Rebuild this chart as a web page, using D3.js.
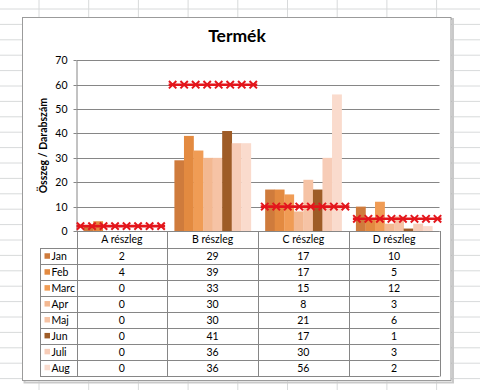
<!DOCTYPE html>
<html><head><meta charset="utf-8">
<script src="https://cdn.jsdelivr.net/npm/d3@7"></script>
<style>
body{margin:0;background:#fff}
svg{display:block}
text{font-family:Lato,"Open Sans","DejaVu Sans",sans-serif;fill:#000}
</style>
</head><body><svg id="c" width="480" height="390"></svg>
<script>
const categories = ["A részleg","B részleg","C részleg","D részleg"];
const months = ["Jan","Feb","Marc","Apr","Maj","Jun","Juli","Aug"];
const jan  = [2, 29, 17, 10];
const feb  = [4, 39, 17, 5];
const marc = [0, 33, 15, 12];
const apr  = [0, 30, 8, 3];
const maj  = [0, 30, 21, 6];
const jun  = [0, 41, 17, 1];
const juli = [0, 36, 30, 3];
const aug  = [0, 36, 56, 2];
const seriesValues = [jan, feb, marc, apr, maj, jun, juli, aug];
const targets = [2, 60, 10, 5];
const yTicks = [0, 10, 20, 30, 40, 50, 60, 70];
const colors = ["#CF7B3C","#E38A40","#F09C55","#F3B891","#F6C3A5","#9E5C27","#F7CCB7","#FADBCD"];

const svg = d3.select("#c");

// spreadsheet background grid
const gridColor = "#D8DADB";
const colXs = d3.range(-1, 10).map(k => 39 + 49.7 * k);
const rowYs = d3.range(-1, 26).map(k => 9 + 15.4 * k);
svg.append("g").selectAll("line.c").data(colXs).join("line")
  .attr("x1", d => d).attr("x2", d => d).attr("y1", 0).attr("y2", 390)
  .attr("stroke", gridColor).attr("stroke-width", 1);
svg.append("g").selectAll("line.r").data(rowYs).join("line")
  .attr("x1", 0).attr("x2", 480).attr("y1", d => d).attr("y2", d => d)
  .attr("stroke", gridColor).attr("stroke-width", 1);

// chart area
svg.append("rect").attr("x", 24.5).attr("y", 19).attr("width", 428.5).attr("height", 363.5)
  .attr("fill", "none").attr("stroke", "#C9C9C9").attr("stroke-width", 2);
svg.append("rect").attr("x", 22.5).attr("y", 17.5).attr("width", 428.5).attr("height", 363)
  .attr("fill", "#fff").attr("stroke", "#9B9B9B").attr("stroke-width", 1);

// title
svg.append("text").attr("x", 237).attr("y", 41.5).attr("text-anchor", "middle")
  .attr("font-size", 17.5).attr("font-weight", "bold").text("Termék");

// scales
const left = 76.5, right = 439.5, y0 = 231, yTop = 60.3;
const x = d3.scaleBand().domain(categories).range([left, right]);
const xm = d3.scaleBand().domain(months).range([0, x.bandwidth()]).paddingInner(0).paddingOuter(0.75);
const y = d3.scaleLinear().domain([0, 70]).range([y0, yTop]);

// y axis with gridlines
const yAxis = d3.axisLeft(y).tickValues(yTicks).tickSizeInner(-(right - left)).tickSizeOuter(0).tickPadding(9);
const ga = svg.append("g").attr("transform", `translate(${left},0)`).call(yAxis);
ga.select(".domain").attr("stroke", "#868686");
ga.selectAll(".tick line").attr("stroke", "#868686");
ga.selectAll(".tick text").attr("font-size", 10.5).attr("font-family", "Lato,'Open Sans',sans-serif").attr("fill", "#000");
svg.append("g").selectAll("line").data(yTicks).join("line")
  .attr("x1", left - 3).attr("x2", left).attr("y1", d => Math.round(y(d)) + 0.5).attr("y2", d => Math.round(y(d)) + 0.5)
  .attr("stroke", "#868686");
ga.selectAll(".tick").attr("transform", d => `translate(0,${Math.round(y(d)) + 0.5})`);

// y-axis title
svg.append("text").attr("transform", `translate(46.5,${(y0 + yTop) / 2}) rotate(-90)`)
  .attr("text-anchor", "middle").attr("font-size", 10.5).attr("font-weight", "bold").text("Összeg / Darabszám");

// bars
const bars = svg.append("g");
seriesValues.forEach((vals, si) => {
  bars.selectAll(null).data(vals).join("rect")
    .attr("x", (d, i) => x(categories[i]) + xm(months[si]))
    .attr("width", xm.bandwidth() + 0.3)
    .attr("y", d => y(d))
    .attr("height", d => y0 - y(d))
    .attr("fill", colors[si]);
});

// target lines (8 points per category)
const idx = d3.range(32);
const xp = d3.scalePoint().domain(idx).range([left + 4, right - 2]);
const red = "#E3161C";
const lg = svg.append("g");
categories.forEach((c, ci) => {
  const pts = d3.range(8).map(j => ci * 8 + j);
  const yy = y(targets[ci]);
  lg.append("line").attr("x1", xp(pts[0]) - 4).attr("x2", xp(pts[7]) + 4)
    .attr("y1", yy).attr("y2", yy).attr("stroke", red).attr("stroke-width", 2.6);
  lg.selectAll(null).data(pts).join("path")
    .attr("d", p => { const cx = xp(p), s = 3.7; return `M${cx - s},${yy - s}L${cx + s},${yy + s}M${cx - s},${yy + s}L${cx + s},${yy - s}`; })
    .attr("stroke", red).attr("stroke-width", 2).attr("fill", "none");
});

// data table
const tTop = 248.3, rowH = 15.93, tLeft = 40;
const tBottom = tTop + rowH * months.length;
const tc = "#868686";
const tg = svg.append("g");
tg.append("line").attr("x1", left).attr("x2", right).attr("y1", y0 + 0.5).attr("y2", y0 + 0.5).attr("stroke", tc);
tg.selectAll("line.h").data(d3.range(months.length + 1)).join("line")
  .attr("x1", tLeft).attr("x2", right)
  .attr("y1", i => Math.round(tTop + i * rowH) + 0.5).attr("y2", i => Math.round(tTop + i * rowH) + 0.5)
  .attr("stroke", tc);
const vx = categories.map(c => x(c)).concat([right]);
tg.selectAll("line.v").data(vx).join("line")
  .attr("x1", d => Math.round(d) + 0.5).attr("x2", d => Math.round(d) + 0.5)
  .attr("y1", y0).attr("y2", Math.round(tBottom) + 0.5).attr("stroke", tc);
tg.append("line").attr("x1", tLeft + 0.5).attr("x2", tLeft + 0.5)
  .attr("y1", Math.round(tTop) + 0.5).attr("y2", Math.round(tBottom) + 0.5).attr("stroke", tc);
tg.selectAll("text.hd").data(categories).join("text")
  .attr("x", c => x(c) + x.bandwidth() / 2).attr("y", (y0 + tTop) / 2 + 3.7)
  .attr("text-anchor", "middle").attr("font-size", 10.5).text(c => c);
months.forEach((m, mi) => {
  const cy = tTop + rowH * (mi + 0.5);
  tg.append("rect").attr("x", 44.5).attr("y", cy - 3).attr("width", 5.5).attr("height", 5.5).attr("fill", colors[mi]);
  tg.append("text").attr("x", 51.5).attr("y", cy + 3.8).attr("font-size", 10.5).text(m);
  tg.selectAll(null).data(seriesValues[mi]).join("text")
    .attr("x", (d, i) => x(categories[i]) + x.bandwidth() / 2).attr("y", cy + 3.8)
    .attr("text-anchor", "middle").attr("font-size", 10.5).text(d => d);
});
</script>
</body></html>
